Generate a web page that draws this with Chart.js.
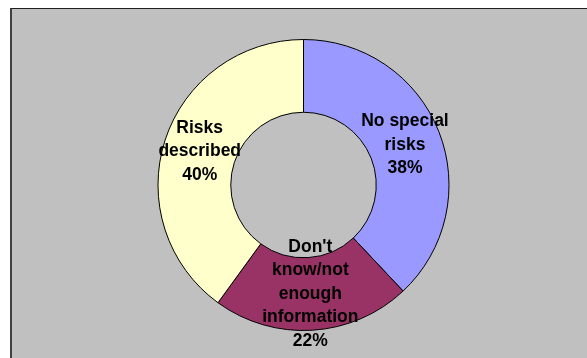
<!DOCTYPE html>
<html>
<head>
<meta charset="utf-8">
<script src="https://cdn.jsdelivr.net/npm/chart.js@4/dist/chart.umd.min.js"></script>
<style>
  html, body { margin: 0; padding: 0; background: #ffffff; }
  #wrap { position: relative; width: 587px; height: 358px; overflow: hidden; }
  #panel {
    position: absolute; left: 10px; top: 8px; right: 0; bottom: 0;
    background: #c0c0c0;
    border-left: 2px solid #404040;
    border-top: 1px solid #202020;
  }
  #myChart { position: absolute; left: 0; top: 0; }
</style>
</head>
<body>
<div id="wrap">
  <div id="panel"></div>
  <canvas id="myChart" width="587" height="358"></canvas>
</div>
<script>
// Data
const categories = [['No special', 'risks'], ['Don\'t', 'know/not', 'enough', 'information'], ['Risks', 'described']];
const shares = [38, 22, 40];
const sliceColors = ['#9999ff', '#993366', '#ffffcc'];

// Draw the label text in the middle of each ring slice
const sliceLabels = {
    id: 'sliceLabels',
    afterDatasetsDraw(chart) {
        const ctx = chart.ctx;
        const meta = chart.getDatasetMeta(0);
        ctx.save();
        ctx.font = 'bold 17.5px "Liberation Sans", Arial, sans-serif';
        ctx.fillStyle = '#000000';
        ctx.textAlign = 'center';
        ctx.textBaseline = 'middle';
        meta.data.forEach((arc, i) => {
            const pos = arc.tooltipPosition();
            const lines = categories[i].concat([shares[i] + '%']);
            const lineH = 23.5;
            const top = pos.y - (lines.length - 1) * lineH / 2;
            lines.forEach((line, j) => {
                ctx.fillText(line, pos.x, top + j * lineH);
            });
        });
        ctx.restore();
    }
};

const ctx = document.getElementById('myChart').getContext('2d');
new Chart(ctx, {
    type: 'doughnut',
    data: {
        labels: categories.map(c => c.join(' ')),
        datasets: [{
            data: shares,
            backgroundColor: sliceColors,
            borderColor: '#000000',
            borderWidth: 1
        }]
    },
    options: {
        responsive: false,
        animation: false,
        cutout: '50%',
        layout: {
            padding: { left: 157, right: 137, top: 39, bottom: 27 }
        },
        plugins: {
            legend: { display: false },
            tooltip: { enabled: false }
        }
    },
    plugins: [sliceLabels]
});
</script>
</body>
</html>
